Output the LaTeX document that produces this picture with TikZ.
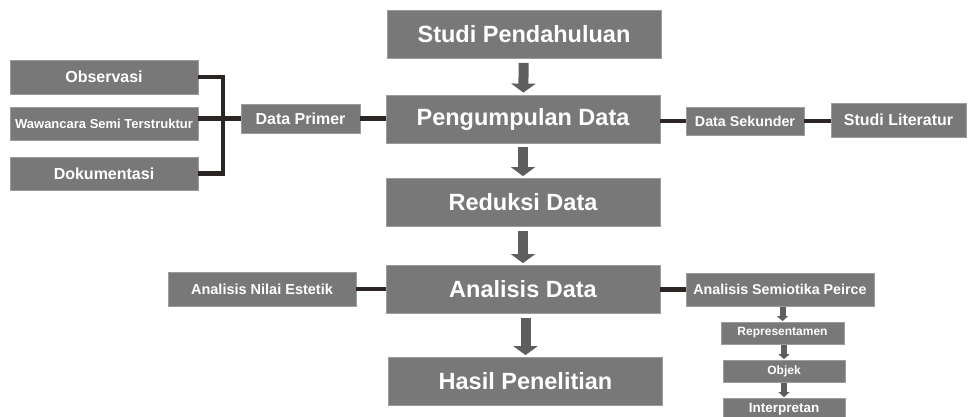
\documentclass[tikz,border=0pt]{standalone}
\usepackage{fontspec}
\setmainfont{Liberation Sans}
\usetikzlibrary{positioning,arrows.meta}

\definecolor{boxgray}{HTML}{787878}
\definecolor{boxedge}{HTML}{9C9C9C}
\definecolor{linkdark}{HTML}{2B2523}
\definecolor{arrowgray}{HTML}{5E5E5E}

\begin{document}
\begin{tikzpicture}[ % 1pt per pixel, y grows downwards
x=1pt, y=-1pt,
main_box/.style={rectangle, draw=boxedge, fill=boxgray, text=white, line width=0.8pt, inner sep=0pt, minimum width=274pt, minimum height=48pt, font=\fontsize{23.5}{26}\selectfont\bfseries},
side_box/.style={rectangle, draw=boxedge, fill=boxgray, text=white, line width=0.8pt, inner sep=0pt, minimum width=188pt, minimum height=34pt, font=\fontsize{16}{18}\selectfont\bfseries},
small_box/.style={rectangle, draw=boxedge, fill=boxgray, text=white, line width=0.8pt, inner sep=0pt, minimum width=122pt, minimum height=22pt, font=\fontsize{12}{14}\selectfont\bfseries},
link/.style={line width=4.5pt, draw=linkdark},
block_arrow/.style={-{Triangle[width=24pt,length=9pt]}, line width=10pt, draw=arrowgray, shorten <=4pt, shorten >=2pt},
small_arrow/.style={-{Triangle[width=11pt,length=5pt]}, line width=6pt, draw=arrowgray, shorten <=0.5pt, shorten >=0.5pt}
]

\useasboundingbox (0,0) rectangle (968,416);

\node[main_box](studi) at (524,34.5) {Studi Pendahuluan};
\node[main_box](kumpul) at (523,119) {Pengumpulan Data};
\node[main_box](reduksi) at (523,202.5) {Reduksi Data};
\node[main_box](analisis) at (523,289.5) {Analisis Data};
\node[main_box](hasil) at (525.5,381.5) {Hasil Penelitian};

\node[side_box](obs) at (104,77) {Observasi};
\node[side_box, minimum height=33pt, font=\fontsize{13}{15}\selectfont\bfseries](wawan) at (104,123.5) {Wawancara Semi Terstruktur};
\node[side_box, minimum height=33pt](doku) at (104,173.5) {Dokumentasi};
\node[side_box, minimum width=119pt, minimum height=29pt](primer) at (300.5,118.5) {Data Primer};

\node[side_box, minimum width=118pt, minimum height=28pt, font=\fontsize{14.3}{16}\selectfont\bfseries](sekunder) at (745,121) {Data Sekunder};
\node[side_box, minimum width=135pt](literatur) at (898.5,120) {Studi Literatur};

\node[side_box, font=\fontsize{14.5}{16}\selectfont\bfseries](estetik) at (262,289) {Analisis Nilai Estetik};
\node[side_box, minimum height=33pt, font=\fontsize{14.3}{16}\selectfont\bfseries](semiotika) at (780,289.5) {Analisis Semiotika Peirce};

\node[small_box, minimum width=123pt](repre) at (782.5,333) {Representamen};
\node[small_box](objek) at (784,371) {Objek};
\node[small_box, font=\fontsize{13.5}{15}\selectfont\bfseries](interp) at (784,409) {Interpretan};

\coordinate (bracket) at (223,119);

\draw[link](obs.east) -| (bracket) |- (doku.east);
\draw[link](primer.west) to [] (primer.west -| wawan.east);
\draw[link](primer.east) to [] (primer.east -| kumpul.west);
\draw[link](sekunder.west) to [] (sekunder.west -| kumpul.east);
\draw[link](sekunder.east) to [] (sekunder.east -| literatur.west);
\draw[link](estetik.east) to [] (estetik.east -| analisis.west);
\draw[link](semiotika.west) to [] (semiotika.west -| analisis.east);

\draw[block_arrow](studi) to [] (kumpul);
\draw[block_arrow](kumpul) to [] (reduksi);
\draw[block_arrow](reduksi) to [] (analisis);
\draw[block_arrow](analisis.south -| hasil) to [] (hasil.north);

\draw[small_arrow](semiotika.south -| repre) to [] (repre.north);
\draw[small_arrow](repre.south -| objek) to [] (objek.north);
\draw[small_arrow](objek) to [] (interp);

\end{tikzpicture}
\end{document}
